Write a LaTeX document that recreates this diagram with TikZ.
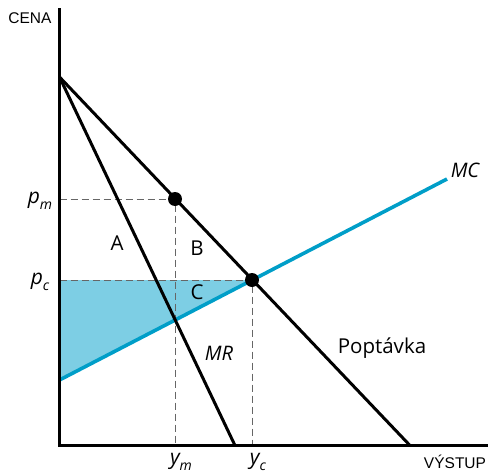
\documentclass[tikz,border=0pt]{standalone}
\usepackage{fontspec}
\setmainfont{Open Sans}
\newfontfamily\axisfont{Liberation Sans}
\usetikzlibrary{calc}
\definecolor{mccyan}{RGB}{0,158,200}
\definecolor{dwlfill}{RGB}{125,206,228}
\newcommand{\sublab}[2]{\itshape #1\raisebox{-0.3em}{\fontsize{14}{16}\selectfont #2}}

\begin{document}
\begin{tikzpicture}[x=1pt,y=-1pt]

\tikzset{
  axis/.style={line width=2.4pt},
  curve/.style={line width=3pt, black},
  mcline/.style={line width=3.6pt, mccyan},
  guide/.style={line width=0.9pt, black!60, dash pattern=on 7pt off 4pt},
  dot/.style={circle, fill=black, inner sep=0pt, minimum size=14pt},
  axlab/.style={font=\axisfont\fontsize{15.5}{18}\selectfont, inner sep=0pt},
  area/.style={font=\fontsize{20.5}{24}\selectfont, inner sep=0pt},
  val/.style={font=\fontsize{21}{24}\selectfont, inner sep=0pt}
}
\useasboundingbox (0,0) rectangle (488,474);

% ---- COORDINATES ----
\coordinate (origin) at (59.5,445.5);
\coordinate (ytop)   at (59.5,8);
\coordinate (xend)   at (488,445.5);
\coordinate (dstart) at (59.5,77);
\coordinate (dend)   at (410,445.5);
\coordinate (mrend)  at (235,445.5);
\coordinate (mcstart) at (59.5,380);
\coordinate (mcend)  at (447,179);
\coordinate (pm)     at (59.5,199);
\coordinate (pc)     at (59.5,280);
\coordinate (ym)     at (175,445.5);
\coordinate (yc)     at (252,445.5);
\coordinate (eqm)    at (175,199);
\coordinate (eqc)    at (252,280);

% ---- SHADED AREA ----
\fill[dwlfill] (pc) -- (eqc) -- (mcstart) -- cycle;

% ---- GUIDES ----
\draw[guide] (pm) -- (eqm) -- (ym);
\draw[guide] (pc) -- (eqc) -- (yc);

% ---- CURVES ----
\draw[mcline] (mcstart) -- (mcend);
\draw[curve] (dstart) -- (dend);
\draw[curve] (dstart) -- (mrend);

% ---- AXES ----
\draw[axis] (ytop) -- (origin) -- (xend);

% ---- EQUILIBRIA ----
\node (monop) [dot] at (eqm) {};
\node (comp)  [dot] at (eqc) {};

% ---- LABELS ----
\node (cena)   [axlab] at (30,18)   {CENA};
\node (vystup) [axlab] at (455,462) {VÝSTUP};
\node (lpm) [val] at (40,201) {\sublab{p}{m}};
\node (lpc) [val] at (40,282) {\sublab{p}{c}};
\node (lym) [val] at (181,462) {\sublab{y}{m}};
\node (lyc) [val] at (258,462) {\sublab{y}{c}};
\node (la) [area] at (117,243) {A};
\node (lb) [area] at (197,248) {B};
\node (lc) [area] at (197,292) {C};
\node (lmr) [area, font=\itshape\fontsize{20}{24}\selectfont] at (219,353) {MR};
\node (lmc) [area, font=\itshape\fontsize{20}{24}\selectfont] at (465,170) {MC};
\node (ldem) [area] at (382,348) {Poptávka};

\end{tikzpicture}
\end{document}
